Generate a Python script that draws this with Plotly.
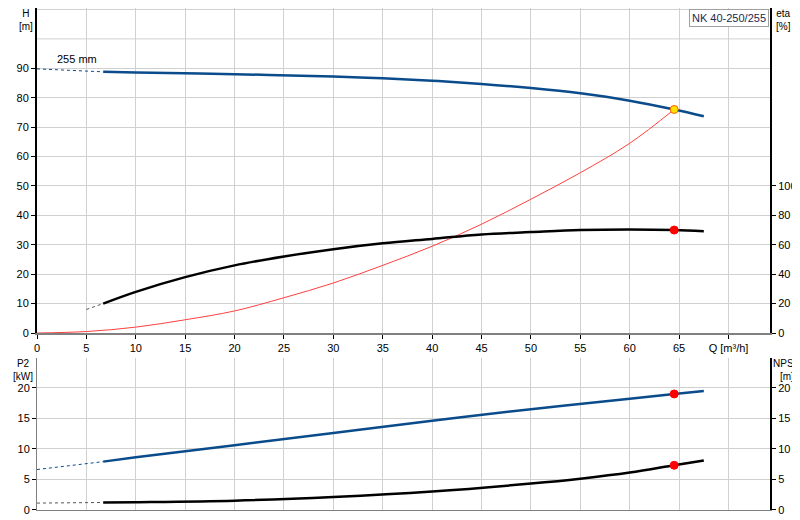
import plotly.graph_objects as go

# head curve (m)
q_h = [6.7, 10, 20, 30, 35, 40, 45, 50, 55, 60, 64.5, 67.5]
h = [88.8, 88.6, 88.0, 87.2, 86.6, 85.8, 84.7, 83.3, 81.5, 79.0, 76.0, 73.7]
q_h_ext = [0, 6.7]
h_ext = [89.8, 88.8]

# efficiency (%)
q_eta = [6.7, 10, 15, 20, 25, 30, 35, 40, 45, 50, 55, 60, 64.5, 67.5]
eta = [20, 28, 38, 46, 52, 57, 61, 64, 67, 68.6, 70, 70.4, 70, 69.2]
q_eta_ext = [5, 6.7]
eta_ext = [16, 20]

# system curve (m)
q_sys = [0, 5, 10, 15, 20, 25, 30, 35, 40, 45, 50, 55, 60, 64.5]
h_sys = [0, 0.5, 2, 4.5, 7.5, 12, 17, 23, 29.5, 37, 45.5, 54.5, 64.5, 76]

# power P2 (kW)
q_p = [6.7, 10, 20, 30, 40, 50, 60, 64.5, 67.5]
p2 = [7.9, 8.6, 10.6, 12.6, 14.6, 16.5, 18.2, 19.0, 19.5]
q_p_ext = [0, 6.7]
p2_ext = [6.6, 7.9]

# NPSH (m)
q_n = [6.7, 10, 20, 30, 40, 50, 55, 60, 64.5, 67.5]
npsh = [1.2, 1.25, 1.5, 2.1, 3.0, 4.3, 5.1, 6.1, 7.3, 8.1]
q_n_ext = [0, 6.7]
npsh_ext = [1.1, 1.2]

duty_q = 64.5
duty_h = 76
duty_eta = 70
duty_p2 = 19.0
duty_npsh = 7.3

x_ticks = [0, 5, 10, 15, 20, 25, 30, 35, 40, 45, 50, 55, 60, 65, 70]
x_text = [str(v) for v in x_ticks[:-1]] + ["Q [m³/h]"]

BLUE = "#0a4b8c"
fig = go.Figure()

def line(x, y, color, width, xa, ya, dash="solid"):
    fig.add_trace(go.Scatter(x=x, y=y, mode="lines", xaxis=xa, yaxis=ya,
                             line=dict(color=color, width=width, dash=dash, shape="spline"),
                             hoverinfo="skip"))

def dot(x, y, color, xa, ya, border=None):
    fig.add_trace(go.Scatter(x=[x], y=[y], mode="markers", xaxis=xa, yaxis=ya,
                             marker=dict(color=color, size=8,
                                         line=dict(color=border or color, width=1)),
                             hoverinfo="skip"))

line(q_h_ext, h_ext, BLUE, 1, "x", "y", "dot")
line(q_h, h, BLUE, 2.5, "x", "y")
line(q_sys, h_sys, "#ff4040", 1, "x", "y")
line(q_eta_ext, eta_ext, "#555", 1, "x", "y2", "dot")
line(q_eta, eta, "black", 2.5, "x", "y2")
dot(duty_q, duty_eta, "red", "x", "y2")
dot(duty_q, duty_h, "#ffe000", "x", "y", border="#ff6000")

line(q_p_ext, p2_ext, BLUE, 1, "x2", "y3", "dot")
line(q_p, p2, BLUE, 2.5, "x2", "y3")
line(q_n_ext, npsh_ext, "#555", 1, "x2", "y4", "dot")
line(q_n, npsh, "black", 2.5, "x2", "y4")
dot(duty_q, duty_p2, "red", "x2", "y3")
dot(duty_q, duty_npsh, "red", "x2", "y4")

grid = "#d0d0d0"
ax_common = dict(showgrid=True, gridcolor=grid, gridwidth=1, zeroline=False,
                 ticks="outside", ticklen=4, tickcolor="black", automargin=False,
                 tickfont=dict(size=11, color="black"))
top_dom = [0.375, 1]
bot_dom = [0.035, 0.327]

fig.update_layout(
    width=800, height=520, showlegend=False,
    paper_bgcolor="white", plot_bgcolor="white",
    margin=dict(l=29, r=38, t=0, b=0),
    font=dict(family="Liberation Sans", size=11, color="black"),
    xaxis=dict(ax_common, domain=[0, 1], range=[0, 74.2], anchor="y",
               tickvals=x_ticks, ticktext=x_text, showline=True, linecolor="#808080", linewidth=2),
    yaxis=dict(ax_common, domain=top_dom, range=[0, 110.5],
               tickvals=list(range(0, 91, 10)), showline=True, linecolor="black", linewidth=2),
    yaxis2=dict(ax_common, overlaying="y", side="right", anchor="x", range=[0, 221],
                tickvals=list(range(0, 101, 20)), showgrid=False,
                showline=True, linecolor="black", linewidth=2),
    xaxis2=dict(ax_common, domain=[0, 1], range=[0, 74.2], anchor="y3",
                tickvals=x_ticks, showticklabels=False, ticks="",
                showline=True, linecolor="#808080", linewidth=1),
    yaxis3=dict(ax_common, domain=bot_dom, anchor="x2", range=[0, 24.9],
                tickvals=[0, 5, 10, 15, 20], showline=True, linecolor="#808080", linewidth=1),
    yaxis4=dict(ax_common, overlaying="y3", side="right", anchor="x2", range=[0, 24.9],
                tickvals=[0, 5, 10, 15, 20], showgrid=False,
                showline=True, linecolor="black", linewidth=2),
)
# extra top gridlines for the head chart
for v in [100, 110]:
    fig.add_shape(type="line", xref="paper", yref="y", x0=0, x1=1, y0=v, y1=v,
                  line=dict(color=grid, width=1), layer="below")

ann = [
    dict(text="H<br>[m]", x=0, xanchor="right", y=1, yanchor="top", xshift=-2, yshift=2),
    dict(text="eta<br>[%]", x=1, xanchor="left", y=1, yanchor="top", xshift=4, yshift=2),
    dict(text="P2<br>[kW]", x=0, xanchor="right", y=0.327, yanchor="top", xshift=-2, yshift=2),
    dict(text="NPSH<br>[m]", x=1, xanchor="left", y=0.327, yanchor="top", xshift=1, yshift=2),
]
for a in ann:
    fig.add_annotation(xref="paper", yref="paper", showarrow=False, align="center",
                       font=dict(size=10), **a)
fig.add_annotation(x=1.8, y=90.5, xref="x", yref="y", text="255 mm", showarrow=False,
                   xanchor="left", yanchor="bottom", font=dict(size=11))
fig.add_annotation(x=1, y=1, xref="paper", yref="paper", text="NK 40-250/255",
                   showarrow=False, xanchor="right", yanchor="top", xshift=-1, yshift=-1,
                   bgcolor="white", bordercolor="#a0a0a0", borderwidth=1, borderpad=2,
                   font=dict(size=11, color="#1a2a50"))

fig.write_html("out.html")
